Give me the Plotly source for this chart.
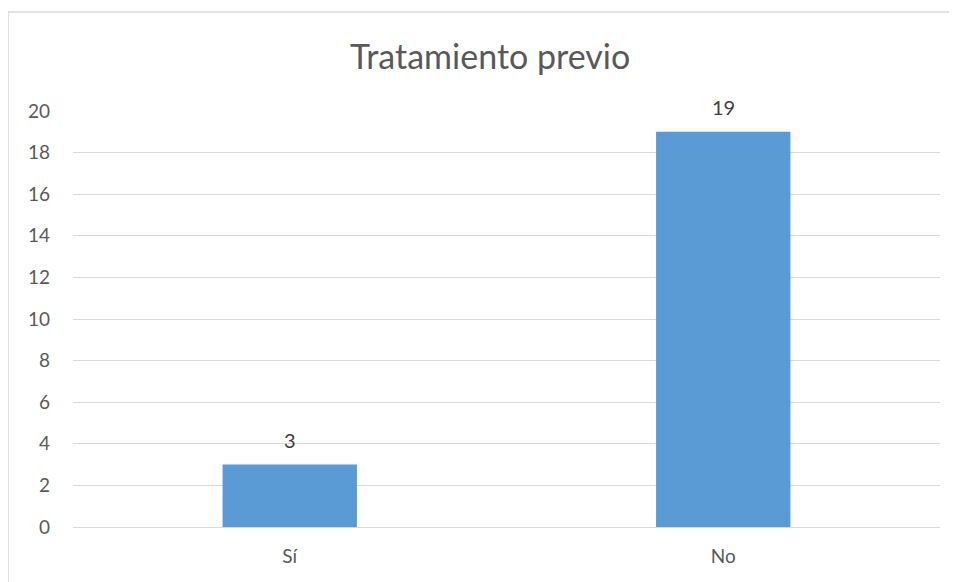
import plotly.graph_objects as go

categories = ["Sí", "No"]
values = [3, 19]
y_ticks = [0, 2, 4, 6, 8, 10, 12, 14, 16, 18, 20]

FONT = "Lato, 'Open Sans', sans-serif"
GREY = "#595959"

fig = go.Figure()
fig.add_trace(go.Bar(
    x=categories, y=values,
    marker=dict(color="#5b9bd5", line=dict(width=0)),
    width=0.31,
    hoverinfo="skip",
))

for c, v in zip(categories, values):
    fig.add_annotation(x=c, y=v, text=str(v), showarrow=False,
                       yanchor="middle", yshift=25,
                       font=dict(family=FONT, size=20, color="#404040"))

fig.add_shape(type="rect", xref="paper", yref="paper",
              x0=-0.075, x1=1.06, y0=-0.3, y1=1.238,
              line=dict(color="#d9d9d9", width=1.5), layer="below")

fig.update_layout(
    width=949, height=574,
    margin=dict(l=65, r=17, t=103, b=55),
    paper_bgcolor="white", plot_bgcolor="white",
    showlegend=False,
    title=dict(text="Tratamiento previo", x=0.508, xanchor="center",
               y=0.9146, yanchor="middle",
               font=dict(family=FONT, size=34, color=GREY)),
    xaxis=dict(showgrid=False, showline=False, zeroline=False,
               tickfont=dict(family=FONT, size=19, color=GREY),
               ticks="", ticklabelstandoff=16),
    yaxis=dict(range=[0, 20], tickvals=y_ticks,
               showgrid=True, gridcolor="#d9d9d9", gridwidth=1.3,
               zeroline=True, zerolinecolor="#d9d9d9", zerolinewidth=1.3,
               showline=False,
               tickfont=dict(family=FONT, size=19, color=GREY),
               ticks="", ticklabelstandoff=22),
)

fig.write_html("out.html")
